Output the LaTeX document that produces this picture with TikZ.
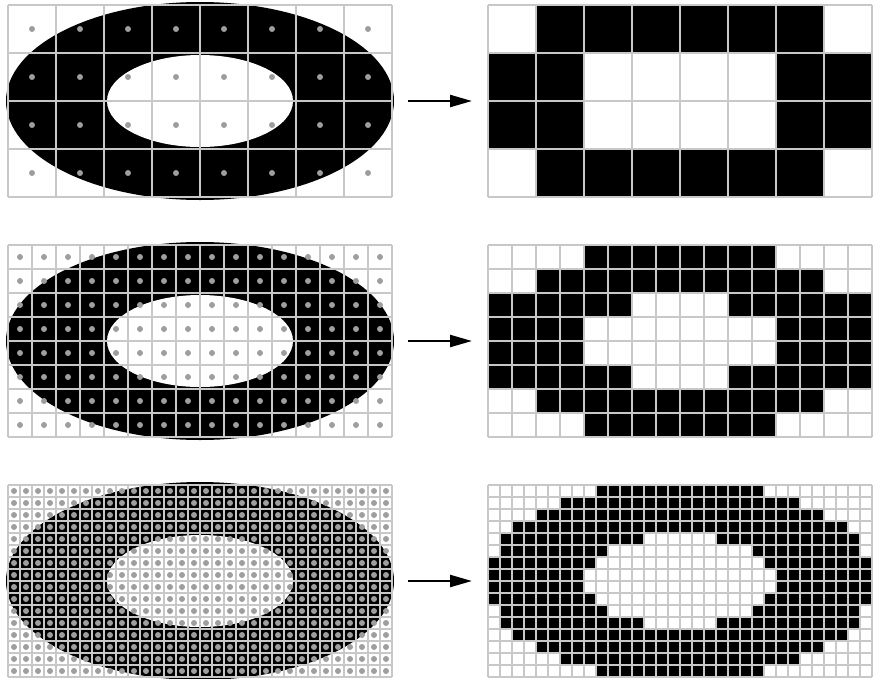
\documentclass[tikz,border=0pt]{standalone}
\usepackage{tikz}
\usetikzlibrary{positioning, arrows.meta}
\definecolor{gridGrey}{HTML}{C8C8C8}
\definecolor{sampleGrey}{HTML}{9E9E9E}

\begin{document}
\begin{tikzpicture}[x=1pt, y=-1pt,
    gridline/.style={draw=gridGrey, line width=1.3pt},
    sample/.style={fill=sampleGrey},
    convert/.style={line width=2.3pt, -{Triangle[length=22pt, width=12pt]}}]
    \useasboundingbox (0,0) rectangle (873,678);
    % one row per resolution: top edge / columns
    \foreach \ytop/\n [count=\k] in {5/8, 245/16, 485/32} {
      \pgfmathsetmacro{\cellsize}{384/\n}
      \pgfmathtruncatemacro{\lastcol}{\n-1}
      \pgfmathtruncatemacro{\lastrow}{\n/2-1}
      \pgfmathtruncatemacro{\nrows}{\n/2}
      % the ring
      \fill (200,\ytop+96) ellipse [x radius=194, y radius=99];
      \fill[white] (200,\ytop+96) ellipse [x radius=93, y radius=46];
      % rasterised ring
      \foreach \i in {0,...,\lastcol} {
        \foreach \j in {0,...,\lastrow} {
          \pgfmathsetmacro{\dx}{(\i+0.5)*\cellsize-192}
          \pgfmathsetmacro{\dy}{(\j+0.5)*\cellsize-96}
          \pgfmathtruncatemacro{\inring}{((\dx/194)^2+(\dy/99)^2<1) && ((\dx/93)^2+(\dy/46)^2>1)}
          \ifnum\inring=1
            \fill ({488+\i*\cellsize},{\ytop+\j*\cellsize}) rectangle ++(\cellsize,\cellsize);
          \fi
        }
      }
      % grids
      \foreach \px in {8,488} {
        \foreach \i in {0,...,\n}
          \draw[gridline] ({\px+\i*\cellsize},\ytop) -- ++(0,192);
        \foreach \j in {0,...,\nrows}
          \draw[gridline] (\px,{\ytop+\j*\cellsize}) -- ++(384,0);
      }
      % sample points
      \foreach \i in {0,...,\lastcol}
        \foreach \j in {0,...,\lastrow}
          \fill[sample] ({8+(\i+0.5)*\cellsize},{\ytop+(\j+0.5)*\cellsize}) circle [radius=3];
      \coordinate (from\k) at (408,\ytop+96);
      \coordinate (to\k) at (472,\ytop+96);
      \draw[convert] (from\k) -- (to\k);
    }
\end{tikzpicture}
\end{document}
